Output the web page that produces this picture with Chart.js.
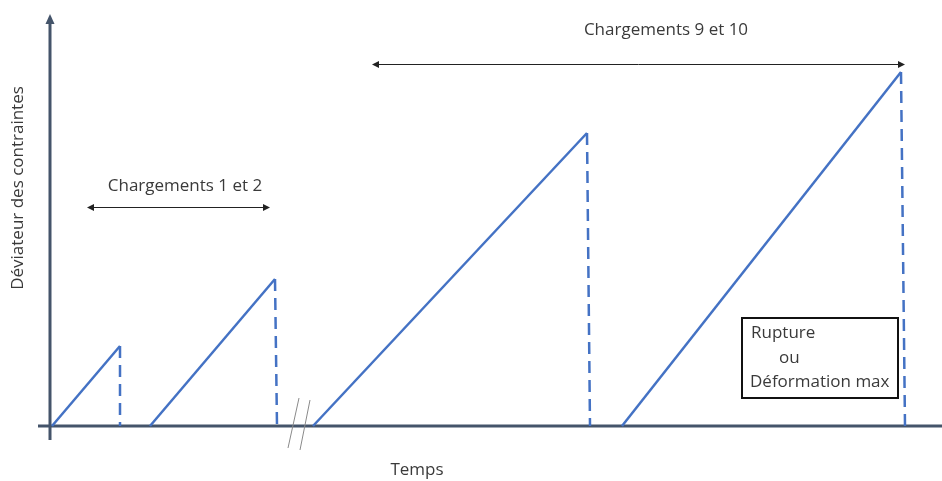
<!DOCTYPE html>
<html>
<head>
<meta charset="utf-8">
<script src="https://cdn.jsdelivr.net/npm/chart.js@4/dist/chart.umd.min.js"></script>
<style>
  html, body { margin: 0; padding: 0; background: #fff; }
  #wrap { width: 942px; height: 481px; }
</style>
</head>
<body>
<div id="wrap"><canvas id="chart"></canvas></div>
<script>
const rampStart = [2, 100, 263, 572];
const peakX = [70, 225, 537, 851];
const peakY = [80, 147, 293, 354];
const dropX = [70, 227, 540, 855];

const axisX = [-12, 892];
const axisY = [-14, 412];

const labels = {
  y: "Déviateur des contraintes",
  x: "Temps",
  range1: "Chargements 1 et 2",
  range2: "Chargements 9 et 10",
  box: ["Rupture", "ou", "Déformation max"]
};
const range1 = { from: 37, to: 220, y: 219, textX: 135, textY: 240 };
const range2 = { from: 322, to: 855, y: 362, textX: 616, textY: 396 };
const breakMarks = [[238, -22, 249, 28], [250, -24, 260, 26]];
const box = { x1: 692, x2: 848, y1: 108, y2: 28 };

const blue = "#4472c4";
const axisColor = "#44546a";
const textColor = "#3a3a3a";
const font = "'Open Sans', 'Noto Sans', sans-serif";

const datasets = [];
for (let i = 0; i < rampStart.length; i++) {
  datasets.push({
    data: [{ x: rampStart[i], y: 0 }, { x: peakX[i], y: peakY[i] }],
    borderColor: blue, borderWidth: 2.5, showLine: true, pointRadius: 0
  });
  datasets.push({
    data: [{ x: peakX[i], y: peakY[i] }, { x: dropX[i], y: 0 }],
    borderColor: blue, borderWidth: 2.5, borderDash: [12, 7], showLine: true, pointRadius: 0
  });
}

function arrowHead(ctx, x, y, dir, size) {
  ctx.beginPath();
  ctx.moveTo(x, y);
  ctx.lineTo(x - dir * size, y - size * 0.5);
  ctx.lineTo(x - dir * size, y + size * 0.5);
  ctx.closePath();
  ctx.fill();
}

const schema = {
  id: "schema",
  beforeDatasetsDraw(chart) {
    const { ctx, scales: { x, y } } = chart;
    ctx.save();
    // axes
    ctx.strokeStyle = axisColor;
    ctx.fillStyle = axisColor;
    ctx.lineWidth = 3;
    ctx.beginPath();
    ctx.moveTo(x.getPixelForValue(axisX[0]), y.getPixelForValue(0));
    ctx.lineTo(x.getPixelForValue(axisX[1]), y.getPixelForValue(0));
    ctx.moveTo(x.getPixelForValue(0), y.getPixelForValue(axisY[0]));
    ctx.lineTo(x.getPixelForValue(0), y.getPixelForValue(axisY[1]) + 8);
    ctx.stroke();
    const tx = x.getPixelForValue(0), ty = y.getPixelForValue(axisY[1]);
    ctx.beginPath();
    ctx.moveTo(tx, ty);
    ctx.lineTo(tx - 4.5, ty + 10);
    ctx.lineTo(tx + 4.5, ty + 10);
    ctx.closePath();
    ctx.fill();
    ctx.restore();
  },
  afterDatasetsDraw(chart) {
    const { ctx, scales: { x, y } } = chart;
    ctx.save();
    // coupure de l'axe
    ctx.strokeStyle = "#8a8a8a";
    ctx.lineWidth = 1;
    breakMarks.forEach(m => {
      ctx.beginPath();
      ctx.moveTo(x.getPixelForValue(m[0]), y.getPixelForValue(m[1]));
      ctx.lineTo(x.getPixelForValue(m[2]), y.getPixelForValue(m[3]));
      ctx.stroke();
    });
    // flèches des plages
    ctx.strokeStyle = "#222";
    ctx.fillStyle = "#222";
    [range1, range2].forEach(r => {
      const py = Math.round(y.getPixelForValue(r.y)) + 0.5;
      const a = x.getPixelForValue(r.from), b = x.getPixelForValue(r.to);
      ctx.beginPath();
      ctx.moveTo(a + 3, py);
      ctx.lineTo(b - 3, py);
      ctx.stroke();
      arrowHead(ctx, a, py, -1, 7);
      arrowHead(ctx, b, py, 1, 7);
    });
    // textes
    ctx.fillStyle = textColor;
    ctx.font = "17px " + font;
    ctx.textAlign = "center";
    ctx.textBaseline = "middle";
    ctx.fillText(labels.range1, x.getPixelForValue(range1.textX), y.getPixelForValue(range1.textY));
    ctx.fillText(labels.range2, x.getPixelForValue(range2.textX), y.getPixelForValue(range2.textY));
    ctx.fillText(labels.x, 417, 470);
    ctx.save();
    ctx.translate(18, 188);
    ctx.rotate(-Math.PI / 2);
    ctx.fillText(labels.y, 0, 0);
    ctx.restore();
    // encadré
    const bx1 = x.getPixelForValue(box.x1), bx2 = x.getPixelForValue(box.x2);
    const by1 = y.getPixelForValue(box.y1), by2 = y.getPixelForValue(box.y2);
    ctx.fillStyle = "#fff";
    ctx.fillRect(bx1, by1, bx2 - bx1, by2 - by1);
    ctx.strokeStyle = "#111";
    ctx.lineWidth = 2;
    ctx.strokeRect(bx1, by1, bx2 - bx1, by2 - by1);
    ctx.fillStyle = textColor;
    ctx.textAlign = "left";
    ctx.fillText(labels.box[0], bx1 + 9, by1 + 15);
    ctx.fillText(labels.box[1], bx1 + 37, by1 + 40);
    ctx.fillText(labels.box[2], bx1 + 8, by1 + 64);
    ctx.restore();
  }
};

new Chart(document.getElementById("chart"), {
  type: "scatter",
  data: { datasets },
  options: {
    responsive: true,
    maintainAspectRatio: false,
    animation: false,
    layout: { padding: { left: 50, right: 2, top: 14, bottom: 55 } },
    scales: {
      x: { type: "linear", min: 0, max: 890, display: false },
      y: { type: "linear", min: 0, max: 412, display: false }
    },
    elements: { line: { tension: 0 } },
    clip: false,
    plugins: { legend: { display: false }, tooltip: { enabled: false } }
  },
  plugins: [schema]
});
</script>
</body>
</html>
